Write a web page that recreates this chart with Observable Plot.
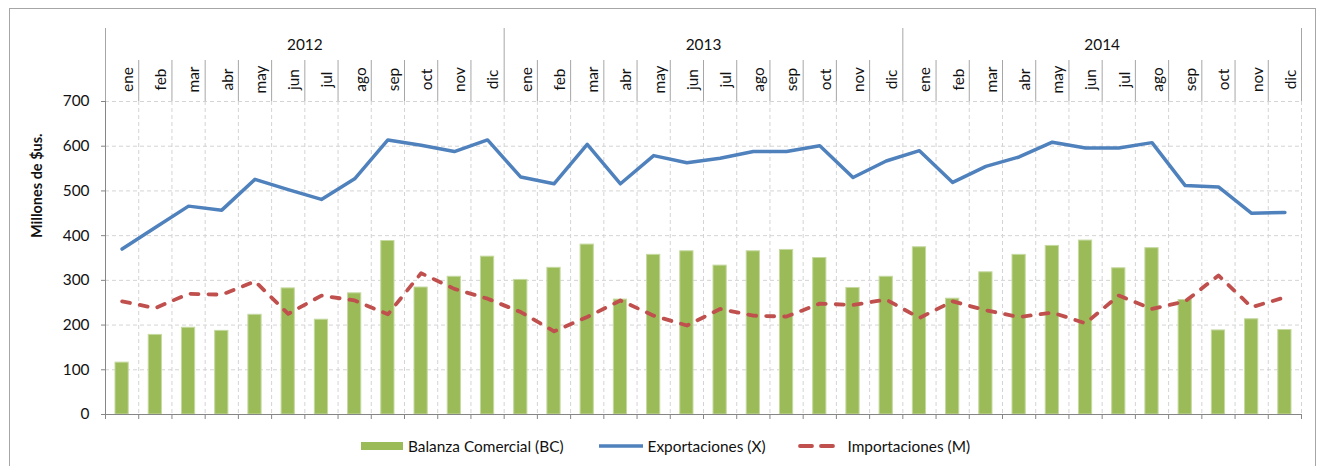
<!DOCTYPE html>
<html>
<head>
<meta charset="utf-8">
<script src="https://cdn.jsdelivr.net/npm/d3@7"></script>
<script src="https://cdn.jsdelivr.net/npm/@observablehq/plot@0.6"></script>
<style>
html, body { margin: 0; padding: 0; background: #fff; overflow: hidden; }
#wrap { position: relative; width: 1318px; height: 466px; font-family: Lato, "Open Sans", sans-serif; }
#frame { position: absolute; left: 9px; top: 8px; width: 1307px; height: 480px; border: 1px solid #a6a6a6; box-sizing: border-box; }
#chart { position: absolute; left: 0; top: 0; }
#legend { position: absolute; top: 436px; left: 361px; height: 20px; display: flex; align-items: center; font-size: 15.4px; color: #111; white-space: nowrap; }
#legend svg { display: block; }
</style>
</head>
<body>
<div id="wrap">
  <div id="frame"></div>
  <div id="chart"></div>
  <div id="legend">
    <svg width="42" height="8"><rect width="42" height="8" fill="#9BBB59"></rect></svg>
    <span style="margin-left:5px">Balanza Comercial (BC)</span>
    <svg width="44" height="6" style="margin-left:35px"><line x1="0" y1="3" x2="44" y2="3" stroke="#4F81BD" stroke-width="3.5"></line></svg>
    <span style="margin-left:5px">Exportaciones (X)</span>
    <svg width="38" height="6" style="margin-left:32px"><line x1="2" y1="3" x2="36" y2="3" stroke="#C0504D" stroke-width="3.8" stroke-linecap="round" stroke-dasharray="12,9"></line></svg>
    <span style="margin-left:12px">Importaciones (M)</span>
  </div>
</div>
<script>
const years = ["2012", "2013", "2014"];
const months = ["ene", "feb", "mar", "abr", "may", "jun", "jul", "ago", "sep", "oct", "nov", "dic"];
const yTicks = [0, 100, 200, 300, 400, 500, 600, 700];

const balanza = [
  116, 178, 194, 187, 223, 282, 212, 271, 388, 284, 308, 353,
  301, 328, 380, 257, 357, 365, 333, 365, 368, 350, 283, 308,
  374, 259, 318, 357, 377, 389, 327, 372, 256, 188, 213, 189
];
const exportaciones = [
  370, 418, 466, 457, 526, 503, 481, 527, 614, 602, 588, 614,
  531, 516, 604, 516, 579, 563, 573, 588, 588, 601, 530, 567,
  590, 519, 555, 576, 609, 596, 596, 608, 512, 509, 450, 452
];
const importaciones = [
  253, 238, 270, 268, 298, 225, 266, 255, 224, 316, 281, 259,
  229, 186, 218, 255, 221, 199, 236, 221, 219, 248, 245, 257,
  216, 253, 233, 218, 228, 204, 266, 236, 253, 311, 240, 262
];

const keys = years.flatMap(y => months.map(m => `${y}-${m}`));
const data = keys.map((k, i) => ({
  key: k,
  year: years[Math.floor(i / 12)],
  month: months[i % 12],
  bc: balanza[i],
  x: exportaciones[i],
  m: importaciones[i]
}));

const W = 1318, H = 425, mL = 105, mR = 17, mT = 101, mB = 11;
const bw = (W - mL - mR) / keys.length;
const frameH = H - mT - mB;
const lastKey = [keys[keys.length - 1]];
const yearStarts = data.filter(d => d.month === "ene").map(d => d.key);
const monthInner = data.filter(d => d.month !== "ene").map(d => d.key);
const yearMids = data.filter(d => d.month === "jul");
const sepColor = "#a6a6a6";
const gridColor = "#d4d4d4";
const fs = 15.4;

const chart = Plot.plot({
  width: W,
  height: H,
  marginLeft: mL,
  marginRight: mR,
  marginTop: mT,
  marginBottom: mB,
  style: { fontFamily: "Lato, 'Open Sans', sans-serif", fontSize: fs + "px", color: "#111", background: "transparent" },
  x: { type: "band", domain: keys, padding: 0, round: false, axis: null },
  y: { domain: [0, 700], axis: null },
  marks: [
    // dashed grid
    Plot.ruleY(yTicks.slice(1), { stroke: gridColor, strokeDasharray: "4,3" }),
    Plot.ruleX(keys.slice(1), { x: d => d, dx: -bw / 2, stroke: gridColor, strokeDasharray: "4,3" }),
    Plot.ruleX(lastKey, { x: d => d, dx: bw / 2, stroke: gridColor, strokeDasharray: "4,3" }),
    // bars
    Plot.barY(data, { x: "key", y: "bc", fill: "#9BBB59", stroke: "#c5d9a0", strokeWidth: 1, insetLeft: 10, insetRight: 10 }),
    // lines
    Plot.line(data, { x: "key", y: "x", stroke: "#4F81BD", strokeWidth: 3.5 }),
    Plot.line(data, { x: "key", y: "m", stroke: "#C0504D", strokeWidth: 3.8, strokeDasharray: "8,10", strokeLinecap: "round" }),
    // axes lines
    Plot.ruleY([0], { stroke: "#868686" }),
    Plot.ruleX([keys[0]], { x: d => d, dx: -bw / 2, stroke: "#868686" }),
    // bottom tick marks
    Plot.ruleX(keys, { x: d => d, dx: -bw / 2, stroke: "#868686", insetTop: frameH, insetBottom: -5 }),
    Plot.ruleX(lastKey, { x: d => d, dx: bw / 2, stroke: "#868686", insetTop: frameH, insetBottom: -5 }),
    // header separators
    Plot.ruleX(monthInner, { x: d => d, dx: -bw / 2, stroke: sepColor, insetTop: -41, insetBottom: frameH }),
    Plot.ruleX(yearStarts, { x: d => d, dx: -bw / 2, stroke: sepColor, insetTop: -73, insetBottom: frameH }),
    Plot.ruleX(lastKey, { x: d => d, dx: bw / 2, stroke: sepColor, insetTop: -73, insetBottom: frameH }),
    // header labels
    Plot.text(data, { x: "key", text: "month", frameAnchor: "top", dy: -22, rotate: -90, fontSize: fs, fill: "#111" }),
    Plot.text(yearMids, { x: "key", text: "year", frameAnchor: "top", dx: -bw / 2, dy: -62, fontSize: fs, fill: "#111" }),
    // y axis
    Plot.axisY({ ticks: yTicks, tickSize: 4, tickPadding: 12, fontSize: fs, label: null, stroke: "#868686", fill: "#111" }),
    Plot.text(["Millones de $us."], { frameAnchor: "left", dx: -68, dy: -20, rotate: -90, fontWeight: "bold", fontSize: 14.5, fill: "#111" })
  ]
});
document.getElementById("chart").appendChild(chart);
</script>
</body>
</html>
